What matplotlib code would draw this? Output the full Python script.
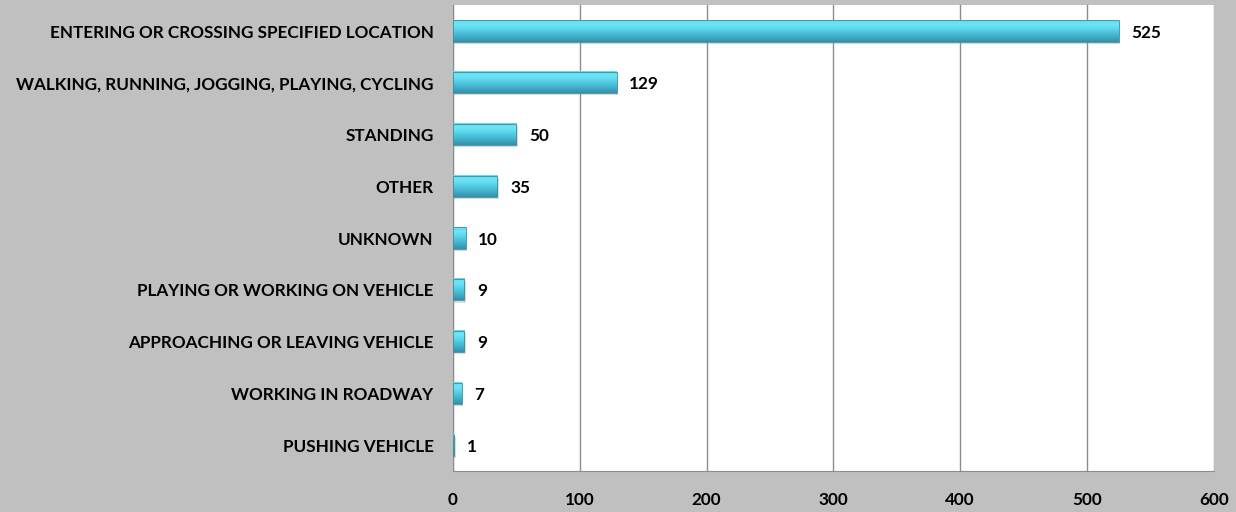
import numpy as np
import matplotlib.pyplot as plt
from matplotlib.colors import LinearSegmentedColormap
from matplotlib.patches import Rectangle

plt.rcParams['font.family'] = ['Lato', 'DejaVu Sans']

# Datos del grafico
categorias = ["ENTERING OR CROSSING SPECIFIED LOCATION",
              "WALKING, RUNNING, JOGGING, PLAYING, CYCLING",
              "STANDING", "OTHER", "UNKNOWN",
              "PLAYING OR WORKING ON VEHICLE",
              "APPROACHING OR LEAVING VEHICLE",
              "WORKING IN ROADWAY", "PUSHING VEHICLE"]
valores = [525, 129, 50, 35, 10, 9, 9, 7, 1]
ticks_x = [0, 100, 200, 300, 400, 500, 600]

fig = plt.figure(figsize=(12.36, 5.12), dpi=100, facecolor="#c0c0c0")
ax = fig.add_axes([0.3665, 0.080, 0.6155, 0.910])
ax.set_facecolor("white")

y = np.arange(len(categorias))
alto = 0.41

# degradado vertical para simular la barra 3D (claro arriba, oscuro abajo)
cmap = LinearSegmentedColormap.from_list("barra", ["#3590a6", "#40aac3", "#4ac0da", "#5dd6ec", "#6fe6f7", "#62d8ee"])
grad = np.linspace(0, 1, 64).reshape(-1, 1)

barras = ax.barh(y, valores, height=alto, color="none", edgecolor="none", zorder=3)
for b in barras:
    x0, y0, w, h = b.get_x(), b.get_y(), b.get_width(), b.get_height()
    # sombra ligera
    ax.add_patch(Rectangle((x0 + 1, y0 + 0.04), w, h, facecolor="#9a9a9a", alpha=0.35,
                           edgecolor="none", zorder=2))
    ax.imshow(grad, cmap=cmap, aspect="auto", extent=(x0, x0 + w, y0 + h, y0),
              origin="lower", zorder=3, interpolation="bicubic")
    ax.add_patch(Rectangle((x0, y0), w, h, fill=False, edgecolor="#3a8fa3", lw=0.6, zorder=4))
    ax.text(x0 + w + 10, y0 + h / 2 + 0.03, str(int(w)), va="center", ha="left",
            fontsize=12.3, fontweight="bold", color="black", zorder=5)

ax.set_ylim(len(categorias) - 0.5, -0.5)
ax.set_xlim(0, 600)
ax.set_xticks(ticks_x)
ax.set_yticks(y)
ax.set_yticklabels(categorias)
ax.grid(axis="x", color="#8c8c8c", lw=1, zorder=0)
ax.tick_params(axis="both", length=0, labelsize=12.3)
ax.tick_params(axis="y", pad=14)
ax.tick_params(axis="x", pad=15)
for lab in ax.get_xticklabels() + ax.get_yticklabels():
    lab.set_fontweight("bold")
for s in ax.spines.values():
    s.set_color("#8c8c8c")
ax.spines["top"].set_visible(False)
ax.spines["right"].set_visible(False)

fig.savefig("out.png", dpi=100, facecolor=fig.get_facecolor())
